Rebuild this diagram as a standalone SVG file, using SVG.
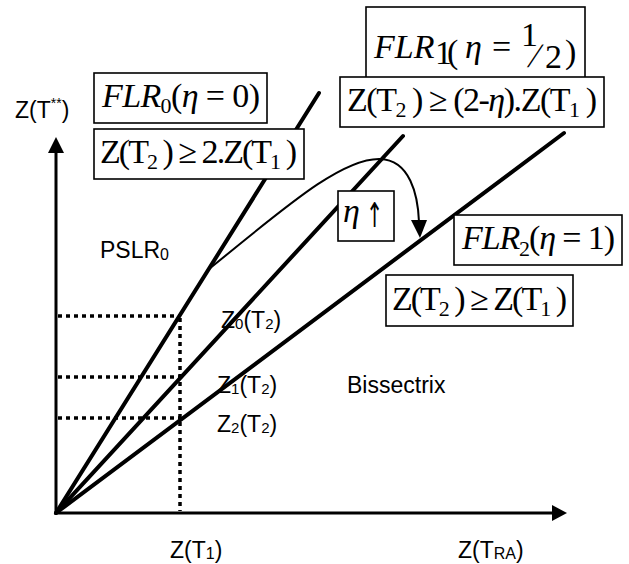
<svg xmlns="http://www.w3.org/2000/svg" width="629" height="564" viewBox="0 0 629 564">
<style>
.bg{fill:#fff}
.box{fill:#fff;stroke:#000;stroke-width:1.6}
.main{stroke:#000;stroke-width:4;fill:none;stroke-linecap:round}
.axis{stroke:#000;stroke-width:3;fill:none}
.dot{stroke:#000;stroke-width:3.5;fill:none;stroke-dasharray:4 4}
.thin{stroke:#000;stroke-width:2;fill:none}
.m{font-family:"Liberation Serif","Times New Roman",serif;font-size:34px;fill:#000}
.i{font-style:italic}
.s{font-family:"Liberation Sans",Arial,sans-serif;font-size:23px;fill:#000}
</style>
<rect class="bg" width="629" height="564"/>
<g id="connectors">
<line class="axis" x1="56" y1="513" x2="56" y2="152"/>
<polygon points="48,153 56,137 64,153" fill="#000"/>
<line class="axis" x1="56" y1="513" x2="552" y2="513"/>
<polygon points="552,505 567,513 552,521" fill="#000"/>
<line class="dot" x1="58" y1="316" x2="180" y2="316"/>
<line class="dot" x1="58" y1="377" x2="180" y2="377"/>
<line class="dot" x1="58" y1="418" x2="180" y2="418"/>
<line class="dot" x1="180" y1="318" x2="180" y2="511"/>
<line id="flr0-line" class="main" x1="56" y1="513" x2="319" y2="93"/>
<line id="flr1-line" class="main" x1="56" y1="513" x2="403" y2="136"/>
<line id="flr2-line" class="main" x1="56" y1="513" x2="564" y2="133"/>
<path id="eta-curve" class="thin" d="M209,269 C280,212 340,158 380,159 C410,160 418,195 419,222"/>
<polygon points="411,220 427,220 420,238" fill="#000"/>
</g>
<g id="box-flr0">
<rect class="box" x="94" y="73" width="173" height="50"/>
<text class="m" x="102" y="107" textLength="158"><tspan class="i">FLR</tspan><tspan font-size="22" dy="6">0</tspan><tspan dy="-6">(</tspan><tspan class="i">η</tspan> = 0)</text>
</g>
<g id="box-cond0">
<rect class="box" x="94" y="129" width="210" height="50"/>
<text class="m" x="100" y="163" textLength="197">Z(T<tspan font-size="22" dy="6">2</tspan><tspan dy="-6"> ) ≥ 2.Z(T</tspan><tspan font-size="22" dy="6">1</tspan><tspan dy="-6"> )</tspan></text>
</g>
<g id="box-flr1">
<rect class="box" x="366" y="7" width="219" height="71"/>
<text class="m i" x="374" y="58" font-size="39">FLR</text>
<text class="m" x="435" y="64" font-size="20">1</text>
<text class="m" x="447" y="63" font-size="54">(</text>
<text class="m i" x="465" y="58" font-size="36">η</text>
<text class="m" x="492" y="58" font-size="36">=</text>
<text class="m" x="521" y="46" font-size="27">1</text>
<text class="m" font-size="48" transform="translate(527,67) skewX(-18)">/</text>
<text class="m" x="545" y="68" font-size="36">2</text>
<text class="m" x="565" y="63" font-size="54">)</text>
</g>
<g id="box-cond1">
<rect class="box" x="340" y="77" width="264" height="50"/>
<text class="m" x="347" y="111" textLength="250">Z(T<tspan font-size="22" dy="6">2</tspan><tspan dy="-6"> ) ≥ (2-</tspan><tspan class="i">η</tspan>).Z(T<tspan font-size="22" dy="6">1</tspan><tspan dy="-6"> )</tspan></text>
</g>
<g id="box-eta">
<rect class="box" x="338" y="191" width="56" height="50"/>
<text class="m i" x="343" y="222">η</text>
<text font-family="DejaVu Sans, sans-serif" font-size="34" fill="#000" transform="translate(366,227) scale(0.6,1)">↑</text>
</g>
<g id="box-flr2">
<rect class="box" x="454" y="215" width="168" height="50"/>
<text class="m" x="462" y="249" textLength="153"><tspan class="i">FLR</tspan><tspan font-size="22" dy="7">2</tspan><tspan dy="-7">(</tspan><tspan class="i">η</tspan> = 1)</text>
</g>
<g id="box-cond2">
<rect class="box" x="386" y="275" width="187" height="51"/>
<text class="m" x="392" y="310" textLength="175">Z(T<tspan font-size="22" dy="6">2</tspan><tspan dy="-6"> ) ≥ Z(T</tspan><tspan font-size="22" dy="6">1</tspan><tspan dy="-6"> )</tspan></text>
</g>
<g id="labels">
<text class="s" x="15" y="118">Z(T<tspan font-size="14" dy="-10">**</tspan><tspan dy="10">)</tspan></text>
<text class="s" x="100" y="258" font-size="22">PSLR<tspan font-size="16" dy="2">0</tspan></text>
<text class="s" x="221" y="328" font-size="22">Z<tspan font-size="15" dy="1">0</tspan><tspan dy="-1">(T</tspan><tspan font-size="15" dy="1">2</tspan><tspan dy="-1">)</tspan></text>
<text class="s" x="217" y="393" font-size="22">Z<tspan font-size="15" dy="1">1</tspan><tspan dy="-1">(T</tspan><tspan font-size="15" dy="1">2</tspan><tspan dy="-1">)</tspan></text>
<text class="s" x="217" y="432" font-size="22">Z<tspan font-size="15" dy="1">2</tspan><tspan dy="-1">(T</tspan><tspan font-size="15" dy="1">2</tspan><tspan dy="-1">)</tspan></text>
<text class="s" x="347" y="393" font-size="25">Bissectrix</text>
<text class="s" x="170" y="558">Z(T<tspan font-size="16" dy="1">1</tspan><tspan dy="-1">)</tspan></text>
<text class="s" x="458" y="558">Z(T<tspan font-size="16" dy="1">RA</tspan><tspan dy="-1">)</tspan></text>
</g>
</svg>
